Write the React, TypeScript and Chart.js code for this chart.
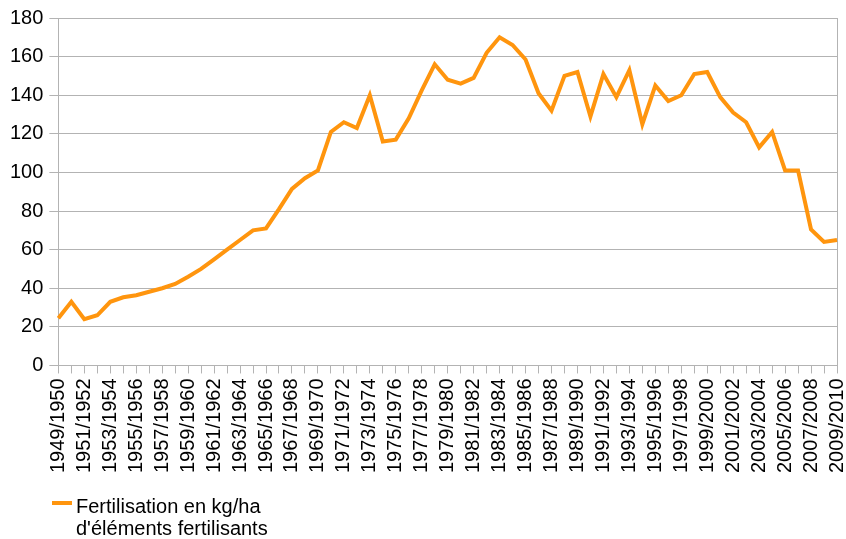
import React, { useEffect, useRef } from "react";
import { Chart, registerables } from "chart.js";

Chart.register(...registerables);

const CATEGORIES: string[] = [
  "1949/1950", "1950/1951", "1951/1952", "1952/1953", "1953/1954", "1954/1955",
  "1955/1956", "1956/1957", "1957/1958", "1958/1959", "1959/1960", "1960/1961",
  "1961/1962", "1962/1963", "1963/1964", "1964/1965", "1965/1966", "1966/1967",
  "1967/1968", "1968/1969", "1969/1970", "1970/1971", "1971/1972", "1972/1973",
  "1973/1974", "1974/1975", "1975/1976", "1976/1977", "1977/1978", "1978/1979",
  "1979/1980", "1980/1981", "1981/1982", "1982/1983", "1983/1984", "1984/1985",
  "1985/1986", "1986/1987", "1987/1988", "1988/1989", "1989/1990", "1990/1991",
  "1991/1992", "1992/1993", "1993/1994", "1994/1995", "1995/1996", "1996/1997",
  "1997/1998", "1998/1999", "1999/2000", "2000/2001", "2001/2002", "2002/2003",
  "2003/2004", "2004/2005", "2005/2006", "2006/2007", "2007/2008", "2008/2009",
  "2009/2010",
];

const FERTILISATION: number[] = [
  24.5, 33, 24, 26, 33, 35.3, 36.4, 38.2, 40, 42.2,
  46, 50, 55, 60, 65, 70, 71, 81, 91.5, 97,
  101, 121, 126, 123, 140, 116, 117, 128, 142.5, 156,
  148, 146, 149, 162, 170, 166, 158.5, 141, 132, 150,
  152, 129, 151, 139, 153, 125, 145, 137, 140, 151,
  152, 139, 131, 126, 113, 121, 101, 101, 70.5, 64,
  65,
];

const LEGEND_LINES: string[] = ["Fertilisation en kg/ha", "d'éléments fertilisants"];

const Y_MIN = 0;
const Y_MAX = 180;
const Y_STEP = 20;

const LINE_COLOR = "#ff950e";
const GRID_COLOR = "#b3b3b3";
const TEXT_COLOR = "#000000";
const FONT_FAMILY = "'Liberation Sans', Arial, sans-serif";

const legendPlugin = {
  id: "customLegend",
  afterDraw(chart: any) {
    const ctx = chart.ctx;
    const h = chart.height;
    ctx.save();
    ctx.strokeStyle = LINE_COLOR;
    ctx.lineWidth = 4;
    ctx.beginPath();
    ctx.moveTo(52, h - 36);
    ctx.lineTo(72, h - 36);
    ctx.stroke();
    ctx.fillStyle = TEXT_COLOR;
    ctx.font = `20px ${FONT_FAMILY}`;
    ctx.textAlign = "left";
    ctx.textBaseline = "alphabetic";
    ctx.fillText(LEGEND_LINES[0], 76, h - 26);
    ctx.fillText(LEGEND_LINES[1], 76, h - 4);
    ctx.restore();
  },
};

export default function App() {
  const canvasRef = useRef<HTMLCanvasElement | null>(null);

  useEffect(() => {
    document.body.style.margin = "0";
    if (!canvasRef.current) return;
    const lastIdx = CATEGORIES.length - 1;
    const chart = new Chart(canvasRef.current, {
      type: "line",
      data: {
        labels: CATEGORIES,
        datasets: [
          {
            label: LEGEND_LINES.join(" "),
            data: FERTILISATION,
            borderColor: LINE_COLOR,
            backgroundColor: LINE_COLOR,
            borderWidth: 4,
            pointRadius: 0,
            pointHoverRadius: 0,
            tension: 0,
            fill: false,
          },
        ],
      },
      options: {
        animation: false,
        responsive: false,
        devicePixelRatio: 1,
        layout: { padding: { left: 4, right: 9, top: 14, bottom: 61 } },
        plugins: {
          legend: { display: false },
          tooltip: { enabled: false },
        },
        scales: {
          x: {
            type: "category",
            offset: false,
            afterFit: (scale: any) => {
              scale.paddingLeft = 0;
              scale.paddingRight = 0;
            },
            grid: {
              display: true,
              drawOnChartArea: true,
              drawTicks: true,
              tickLength: 8,
              color: (c: any) => (c.index === lastIdx ? GRID_COLOR : "rgba(0,0,0,0)"),
              tickColor: GRID_COLOR,
              lineWidth: 1,
            },
            border: { display: true, color: GRID_COLOR, width: 1 },
            ticks: {
              autoSkip: false,
              maxRotation: 90,
              minRotation: 90,
              padding: 5,
              color: TEXT_COLOR,
              font: { family: FONT_FAMILY, size: 20 },
              callback: (_v: any, i: number) => (i % 2 === 0 ? CATEGORIES[i] : ""),
            },
          },
          y: {
            min: Y_MIN,
            max: Y_MAX,
            grid: {
              color: GRID_COLOR,
              tickColor: GRID_COLOR,
              tickLength: 9,
              lineWidth: 1,
            },
            border: { display: true, color: GRID_COLOR, width: 1 },
            ticks: {
              stepSize: Y_STEP,
              padding: 6,
              color: TEXT_COLOR,
              font: { family: FONT_FAMILY, size: 20 },
            },
          },
        },
      },
      plugins: [legendPlugin],
    });
    return () => chart.destroy();
  }, []);

  return (
    <div style={{ width: 846, height: 539 }}>
      <canvas ref={canvasRef} width={846} height={539} style={{ display: "block" }} />
    </div>
  );
}
